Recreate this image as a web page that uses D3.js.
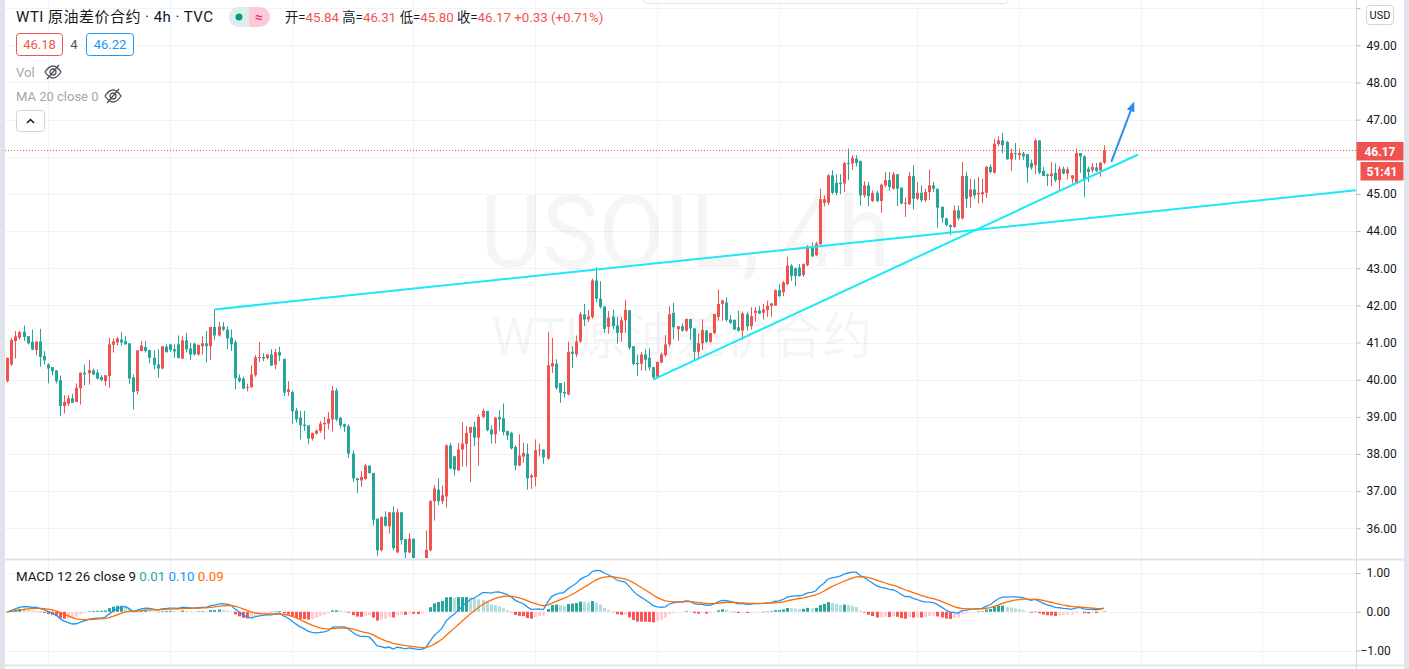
<!DOCTYPE html>
<meta charset="utf-8">
<style>
  body { margin: 0; background: #fff; }
  svg { display: block; font-family: Roboto, "Noto Sans CJK SC", sans-serif; }
</style>
<script src="https://cdn.jsdelivr.net/npm/d3@7"></script>
<svg id="chart" width="1409" height="669"></svg>
<script>

// 4h candles, oldest first
var opens = [
  39.96,40.41,41.04,41.13,41.29,41.17,41.02,40.80,41.03,40.64,
  40.41,40.34,40.25,39.99,39.29,39.36,39.50,39.40,39.77,40.19,
  40.17,40.25,40.19,40.07,39.96,40.10,40.94,41.00,41.08,41.04,
  40.98,40.06,39.69,40.77,40.88,40.80,40.59,40.41,40.30,40.89,
  40.95,40.82,40.95,40.57,41.06,40.84,40.97,40.68,40.90,40.98,
  40.90,41.42,41.19,41.43,41.35,41.13,41.01,40.05,40.03,39.78,
  39.80,40.12,40.59,40.61,40.58,40.68,40.40,40.74,40.56,39.67,
  39.67,39.17,38.98,38.79,38.77,38.41,38.55,38.62,38.80,38.82,
  38.93,39.71,38.97,38.80,38.75,38.01,37.34,37.29,37.33,37.69,
  37.49,36.26,35.41,36.31,36.05,36.43,35.35,36.43,35.71,35.35,
  35.72,35.12,34.95,35.05,35.41,36.73,37.04,36.73,36.86,38.23,
  37.94,37.56,38.12,38.27,38.57,38.73,38.44,39.00,39.16,38.66,
  38.53,39.00,38.96,38.62,38.57,38.19,37.69,37.93,38.01,37.37,
  37.38,38.10,38.12,37.88,40.36,40.43,39.91,39.67,39.60,40.75,
  40.68,41.03,41.76,41.62,41.69,42.67,42.18,41.97,41.42,41.70,
  41.46,41.26,41.60,41.87,40.90,40.45,40.43,40.68,40.59,40.34,
  40.08,40.46,40.66,40.95,41.80,41.36,41.44,41.32,41.63,41.38,
  40.75,40.98,41.32,41.02,41.25,41.69,42.04,42.08,41.62,41.61,
  41.41,41.32,41.76,41.44,41.80,41.86,41.80,41.87,41.99,41.99,
  42.41,42.35,42.57,43.07,43.00,43.02,42.82,43.08,43.55,43.35,
  43.65,44.76,44.76,45.50,45.30,45.30,45.28,45.83,45.82,45.95,
  45.89,44.96,45.23,44.81,45.03,44.81,45.23,45.37,45.14,45.53,
  45.17,44.74,44.72,45.48,44.87,45.03,44.83,45.05,45.23,45.14,
  44.65,44.34,44.16,44.11,44.56,44.34,45.48,44.92,45.12,44.99,
  44.99,45.03,45.73,45.57,46.34,46.44,46.40,45.93,46.10,46.04,
  46.09,46.07,45.83,45.77,46.44,45.62,45.52,45.48,45.57,45.37,
  45.68,45.55,45.41,45.28,46.10,46.01,45.68,45.64,45.71,45.64,
  45.84
];
var highs = [
  40.59,41.13,41.31,41.31,41.46,41.17,41.35,41.03,41.37,40.77,
  40.44,40.34,40.25,40.11,39.58,39.58,39.62,39.90,40.19,40.41,
  40.53,40.30,40.28,40.12,40.12,41.13,41.11,41.15,41.28,41.17,
  40.98,40.14,40.79,41.04,41.04,40.80,40.79,40.82,40.90,40.95,
  40.95,40.95,41.19,41.17,41.26,41.00,41.00,40.95,41.17,41.31,
  41.42,41.89,41.55,41.55,41.44,41.35,41.06,40.14,40.08,39.89,
  40.38,40.66,41.01,40.71,40.68,40.82,40.83,40.89,40.56,39.96,
  39.71,39.24,39.16,39.16,38.77,38.57,38.66,38.89,39.00,39.13,
  39.83,39.78,39.00,38.82,38.80,38.10,37.36,37.54,37.74,37.69,
  37.49,36.26,36.31,36.46,36.43,36.59,36.53,36.43,35.71,35.86,
  35.72,35.14,35.10,35.94,36.76,37.16,37.34,37.15,38.26,38.30,
  37.94,38.30,38.86,38.75,38.73,38.87,39.06,39.22,39.16,38.77,
  39.00,39.18,39.36,38.62,38.60,38.23,38.53,38.30,38.28,37.47,
  38.39,38.28,38.12,41.28,41.12,40.55,39.91,39.94,41.02,40.90,
  41.19,41.82,42.04,41.87,42.72,43.03,42.65,41.97,41.85,41.88,
  41.69,41.69,42.15,41.87,40.90,40.68,40.75,40.81,40.84,40.34,
  40.48,40.73,41.20,41.98,42.07,41.44,41.52,41.65,41.63,41.38,
  41.25,41.62,41.34,41.26,41.77,42.43,42.16,42.22,41.74,41.62,
  41.86,41.83,41.83,41.95,41.95,41.98,42.04,42.13,42.07,42.43,
  42.57,42.66,43.31,43.11,43.02,43.11,43.13,43.62,43.69,43.71,
  45.14,44.96,45.53,45.64,45.53,45.53,45.86,46.22,46.04,46.04,
  45.89,45.34,45.32,45.10,45.08,45.28,45.59,45.59,45.59,45.53,
  45.17,44.90,45.59,45.77,45.32,45.23,45.14,45.66,45.32,45.14,
  44.67,44.36,44.18,44.69,44.69,45.86,45.59,45.41,45.39,45.46,
  45.41,45.75,45.80,46.49,46.55,46.64,46.43,46.22,46.37,46.22,
  46.13,46.07,45.92,46.49,46.44,45.73,45.55,45.86,45.82,45.75,
  45.73,45.73,45.50,46.22,46.10,46.04,45.73,45.83,45.83,45.86,
  46.31
];
var lows = [
  39.93,40.37,40.57,41.08,41.04,40.95,40.79,40.66,40.35,40.41,
  39.90,40.12,39.90,39.02,39.09,39.29,39.38,39.40,39.33,39.85,
  39.87,40.12,40.01,39.96,39.83,39.78,40.73,40.92,40.92,40.95,
  39.89,39.20,39.60,40.77,40.73,40.44,40.28,40.05,40.28,40.73,
  40.75,40.59,40.58,40.55,40.73,40.53,40.65,40.65,40.68,40.46,
  40.53,41.07,41.16,41.31,40.82,40.77,39.74,39.92,39.74,39.69,
  39.78,40.08,40.47,40.50,40.55,40.37,40.28,40.50,39.56,39.56,
  38.80,38.84,38.39,38.62,38.26,38.36,38.52,38.57,38.39,38.66,
  38.60,38.88,38.69,38.59,37.90,37.25,36.95,37.12,37.31,37.47,
  36.07,35.25,35.38,36.05,35.86,35.42,35.33,35.56,35.17,35.33,
  35.15,34.80,34.85,35.00,35.38,36.21,36.62,36.66,36.56,37.59,
  37.42,37.54,37.66,37.66,37.24,38.21,37.69,38.96,38.61,38.28,
  38.28,38.62,38.50,38.37,38.12,37.56,37.67,37.77,37.04,37.06,
  37.13,37.94,37.74,37.84,40.18,39.73,39.38,39.51,39.58,40.32,
  40.61,40.99,41.44,41.55,41.64,42.09,41.91,41.26,41.24,41.35,
  40.97,41.02,41.26,40.81,40.39,40.09,40.25,40.24,40.25,40.00,
  40.06,40.44,40.62,40.89,41.08,41.05,41.29,41.29,41.07,40.53,
  40.55,40.80,40.99,40.99,41.23,41.59,41.59,41.56,41.50,41.34,
  41.29,41.07,41.32,41.35,41.56,41.77,41.62,41.69,41.69,41.99,
  42.22,42.25,42.55,42.66,42.52,42.77,42.77,43.05,43.30,43.32,
  43.62,44.67,44.70,44.99,44.96,44.99,45.05,45.37,45.65,45.74,
  44.69,44.90,44.67,44.78,44.78,44.49,45.18,45.08,45.12,44.67,
  44.72,44.38,44.70,44.58,44.83,44.78,44.78,44.83,45.05,44.09,
  44.22,44.13,43.89,44.09,44.29,44.31,44.63,44.63,44.87,44.74,
  44.76,44.90,45.55,45.55,46.28,46.09,45.92,45.62,45.92,45.92,
  45.92,45.30,45.65,45.53,45.53,45.48,45.21,45.21,45.32,45.10,
  45.53,45.39,45.28,45.26,45.57,44.92,45.32,45.57,45.59,45.46,
  45.80
];
var closes = [
  40.59,41.07,41.17,41.28,41.15,40.98,40.81,41.03,40.61,40.52,
  40.30,40.23,39.96,39.29,39.40,39.50,39.38,39.78,40.19,40.14,
  40.26,40.14,40.03,39.99,40.12,40.95,41.03,41.11,41.00,40.95,
  40.03,39.67,40.79,40.92,40.77,40.59,40.40,40.30,40.90,40.74,
  40.80,40.76,40.58,41.06,40.82,40.68,40.68,40.93,40.98,40.90,
  41.42,41.19,41.43,41.35,41.11,40.95,40.04,39.96,39.76,39.80,
  40.14,40.60,40.61,40.57,40.68,40.38,40.74,40.65,39.65,39.74,
  39.15,38.93,38.77,38.75,38.42,38.57,38.63,38.82,38.84,38.95,
  39.71,38.93,38.77,38.73,38.01,37.34,37.30,37.38,37.69,37.49,
  36.23,35.41,36.31,36.07,36.43,35.47,36.43,35.68,35.35,35.72,
  35.17,34.95,35.05,35.42,36.73,37.07,36.73,36.89,38.23,37.61,
  37.58,38.12,38.28,38.57,38.73,38.44,39.00,39.16,38.64,38.53,
  38.98,38.93,38.59,38.50,38.15,37.69,37.96,38.03,37.34,37.42,
  38.10,38.12,37.91,40.39,40.45,39.78,39.65,39.63,40.75,40.70,
  41.03,41.76,41.62,41.70,42.67,42.18,41.96,41.37,41.67,41.44,
  41.26,41.60,41.88,40.86,40.43,40.42,40.68,40.54,40.33,40.06,
  40.48,40.68,40.95,41.76,41.41,41.44,41.32,41.63,41.38,40.75,
  40.98,41.34,41.02,41.26,41.77,42.04,42.13,41.61,41.53,41.35,
  41.32,41.78,41.44,41.71,41.86,41.78,41.89,41.99,42.05,42.41,
  42.25,42.62,43.07,42.79,42.79,42.79,43.11,43.58,43.32,43.66,
  44.86,44.86,45.50,45.03,45.03,45.26,45.83,45.80,45.97,45.83,
  44.96,45.23,44.94,45.03,44.81,45.25,45.37,45.19,45.53,45.14,
  44.74,44.76,45.48,44.87,45.03,44.83,45.05,45.23,45.14,44.63,
  44.36,44.16,44.11,44.56,44.34,45.48,44.87,45.12,44.96,45.03,
  45.05,45.73,45.59,46.35,46.44,46.31,45.93,46.10,46.07,46.10,
  46.01,45.71,45.71,46.44,45.57,45.48,45.48,45.55,45.37,45.68,
  45.55,45.66,45.50,46.10,46.01,45.39,45.59,45.73,45.62,45.84,
  46.17
];

var priceTicks = [36,37,38,39,40,41,42,43,44,45,46,47,48,49,50];
var hiddenLabels = [46, 50];      // labels covered by the price badge / USD badge
var macdTicks = [-1, 0, 1];
var gridIdx = [10, 40, 70, 100, 130, 160, 190, 224, 249, 279, 309];   // weekly time grid, by bar index
var trendTop = [[51, 41.89], [332, 45.10]];       // [bar index, price]
var trendSupport = [[159, 40.00], [278.4, 46.06]];
var arrowPts = [[271.8, 45.86], [277.0, 47.36]];
var changeText = "+0.33 (+0.71%)";
var countdown = "51:41";

var UP = "#ef5350", DOWN = "#26a69a", GRID = "#f0f3fa", TXT = "#131722";
var axisX = 1356.5, paneSplit = 559, bottomLine = 665;

var svg = d3.select("#chart");
var n = closes.length;

var x = d3.scaleLinear().domain([0, n - 1]).range([7.3, 1104]);
var y = d3.scaleLinear().domain([36, 49]).range([528.3, 45.3]);
var ym = d3.scaleLinear().domain([-1, 1]).range([650.5, 573]);

// clip areas for the two panes
var defs = svg.append("defs");
defs.append("clipPath").attr("id", "clipPrice")
  .append("rect").attr("x", 5).attr("y", 0).attr("width", axisX - 5).attr("height", paneSplit - 1);
defs.append("clipPath").attr("id", "clipMacd")
  .append("rect").attr("x", 5).attr("y", paneSplit + 1).attr("width", axisX - 5).attr("height", bottomLine - paneSplit - 2);
defs.append("marker").attr("id", "arrowHead")
    .attr("viewBox", "0 0 10 10").attr("refX", 5).attr("refY", 5)
    .attr("markerWidth", 5).attr("markerHeight", 5).attr("orient", "auto")
  .append("path").attr("d", "M0,1 L10,5 L0,9 Z").attr("fill", "#2a8ef0");

// page edges
svg.append("rect").attr("x", 0).attr("y", 0).attr("width", 5).attr("height", 669).attr("fill", "#e0e3eb");
svg.append("rect").attr("x", 1404).attr("y", 0).attr("width", 5).attr("height", 669).attr("fill", "#e0e3eb");

// grid
var grid = svg.append("g");
grid.selectAll(".vg").data(gridIdx).enter().append("line")
  .attr("x1", function(d) { return Math.round(x(d)) + 0.5; })
  .attr("x2", function(d) { return Math.round(x(d)) + 0.5; })
  .attr("y1", 0).attr("y2", bottomLine)
  .attr("stroke", GRID);
grid.selectAll(".hg").data(priceTicks).enter().append("line")
  .attr("x1", 5).attr("x2", axisX)
  .attr("y1", function(d) { return Math.round(y(d)) + 0.5; })
  .attr("y2", function(d) { return Math.round(y(d)) + 0.5; })
  .attr("stroke", GRID);
grid.selectAll(".mg").data(macdTicks).enter().append("line")
  .attr("x1", 5).attr("x2", axisX)
  .attr("y1", function(d) { return Math.round(ym(d)) + 0.5; })
  .attr("y2", function(d) { return Math.round(ym(d)) + 0.5; })
  .attr("stroke", GRID);

// watermark
svg.append("text").attr("x", 685).attr("y", 267)
  .attr("text-anchor", "middle").attr("font-size", 100)
  .attr("textLength", 410).attr("lengthAdjust", "spacingAndGlyphs")
  .attr("fill", "rgba(0,0,0,0.04)").text("USOIL, 4h");
svg.append("text").attr("x", 682).attr("y", 354)
  .attr("text-anchor", "middle").attr("font-size", 50)
  .attr("textLength", 380).attr("lengthAdjust", "spacingAndGlyphs")
  .attr("fill", "rgba(0,0,0,0.04)").text("WTI原油差价合约");

// candles
var price = svg.append("g").attr("clip-path", "url(#clipPrice)");
var bars = d3.range(n).map(function(i) {
  return { i: i, o: opens[i], h: highs[i], l: lows[i], c: closes[i] };
});
function px(i) { return Math.round(x(i)); }
var cg = price.selectAll(".candle").data(bars).enter().append("g");
cg.append("rect")
  .attr("x", function(d) { return px(d.i); })
  .attr("width", 1)
  .attr("y", function(d) { return y(d.h); })
  .attr("height", function(d) { return Math.max(1, y(d.l) - y(d.h)); })
  .attr("fill", function(d) { return d.c >= d.o ? UP : DOWN; });
cg.append("rect")
  .attr("x", function(d) { return px(d.i) - 1; })
  .attr("width", 3)
  .attr("y", function(d) { return y(Math.max(d.o, d.c)); })
  .attr("height", function(d) { return Math.max(1, Math.abs(y(d.o) - y(d.c))); })
  .attr("fill", function(d) { return d.c >= d.o ? UP : DOWN; });

// last price dotted line
var lastY = Math.round(y(closes[n - 1])) + 0.5;
price.append("line").attr("x1", 5).attr("x2", axisX)
  .attr("y1", lastY).attr("y2", lastY)
  .attr("stroke", UP).attr("stroke-dasharray", "1,2");

// drawings
var line = d3.line().x(function(d) { return x(d[0]); }).y(function(d) { return y(d[1]); });
price.append("path").attr("d", line(trendTop))
  .attr("fill", "none").attr("stroke", "#1ce9f7").attr("stroke-width", 2);
price.append("path").attr("d", line(trendSupport))
  .attr("fill", "none").attr("stroke", "#1ce9f7").attr("stroke-width", 2);
price.append("path").attr("d", line(arrowPts))
  .attr("fill", "none").attr("stroke", "#2a8ef0").attr("stroke-width", 2)
  .attr("marker-end", "url(#arrowHead)");

// MACD 12 26 close 9, computed from the closes
function ema(arr, len) {
  var k = 2 / (len + 1), prev = arr[0];
  return arr.map(function(v, i) { prev = i ? v * k + prev * (1 - k) : v; return prev; });
}
var e12 = ema(closes, 12), e26 = ema(closes, 26);
var macd = e12.map(function(v, i) { return v - e26[i]; });
var signal = ema(macd, 9);
var hist = macd.map(function(v, i) { return v - signal[i]; });

var mp = svg.append("g").attr("clip-path", "url(#clipMacd)");
var zeroY = ym(0);
mp.selectAll(".hist").data(hist).enter().append("rect")
  .attr("x", function(d, i) { return px(i) - 1; })
  .attr("width", 3)
  .attr("y", function(d) { return Math.min(zeroY, ym(d)); })
  .attr("height", function(d) { return Math.max(0.5, Math.abs(ym(d) - zeroY)); })
  .attr("fill", function(d, i) {
    var prev = i ? hist[i - 1] : d;
    if (d >= 0) return d >= prev ? "#26a69a" : "#b2dfdb";
    return d <= prev ? "#ff5252" : "#ffcdd2";
  });
var mline = d3.line().x(function(d, i) { return x(i); }).y(function(d) { return ym(d); });
mp.append("path").attr("d", mline(macd)).attr("fill", "none").attr("stroke", "#2196f3").attr("stroke-width", 1.3);
mp.append("path").attr("d", mline(signal)).attr("fill", "none").attr("stroke", "#ff6d00").attr("stroke-width", 1.3);

// pane separators
svg.append("line").attr("x1", 5).attr("x2", 1404).attr("y1", paneSplit + 0.5).attr("y2", paneSplit + 0.5)
  .attr("stroke", "#e0e3eb").attr("stroke-width", 2);
svg.append("line").attr("x1", 5).attr("x2", 1404).attr("y1", bottomLine + 0.5).attr("y2", bottomLine + 0.5)
  .attr("stroke", "#e0e3eb").attr("stroke-width", 2);

// right price axis
svg.append("line").attr("x1", axisX).attr("x2", axisX).attr("y1", 0).attr("y2", 669)
  .attr("stroke", "#d6d9e0");
var yAxis = svg.append("g").attr("transform", "translate(" + axisX + ",0)")
  .call(d3.axisRight(y).tickValues(priceTicks).tickSize(4).tickSizeOuter(0).tickPadding(6)
    .tickFormat(function(d) { return hiddenLabels.indexOf(d) >= 0 ? "" : d3.format(".2f")(d); }));
var mAxis = svg.append("g").attr("transform", "translate(" + axisX + ",0)")
  .call(d3.axisRight(ym).tickValues(macdTicks).tickSize(4).tickSizeOuter(0).tickPadding(6)
    .tickFormat(function(d) { return d3.format(".2f")(d).replace("-", "\u2212"); }));
[yAxis, mAxis].forEach(function(a) {
  a.select(".domain").remove();
  a.selectAll(".tick line").attr("stroke", "#b2b5be");
  a.selectAll(".tick text").attr("fill", TXT).attr("font-size", 12)
    .attr("font-family", "Roboto, sans-serif");
});
mAxis.selectAll(".tick text").filter(function(d) { return d < 0; }).attr("dx", -6);

// USD badge
svg.append("rect").attr("x", 1366.5).attr("y", 5.5).attr("width", 27).attr("height", 19).attr("rx", 3)
  .attr("fill", "#fff").attr("stroke", "#d1d4dc");
svg.append("text").attr("x", 1380).attr("y", 19).attr("text-anchor", "middle")
  .attr("font-size", 11).attr("fill", TXT).text("USD");

// last price + countdown labels
svg.append("rect").attr("x", axisX).attr("y", 142).attr("width", 47).attr("height", 18.5).attr("fill", UP);
svg.append("text").attr("x", 1380).attr("y", 156).attr("text-anchor", "middle")
  .attr("font-size", 12).attr("font-weight", "bold").attr("fill", "#fff").text(closes[n - 1].toFixed(2));
svg.append("rect").attr("x", 1360.5).attr("y", 162).attr("width", 43).attr("height", 18.5).attr("fill", UP);
svg.append("text").attr("x", 1382).attr("y", 176).attr("text-anchor", "middle")
  .attr("font-size", 12).attr("font-weight", "bold").attr("fill", "#fff").text(countdown);

// dropdown edge at the top
svg.append("rect").attr("x", 643.5).attr("y", -8).attr("width", 365).attr("height", 11.5).attr("rx", 4)
  .attr("fill", "#fff").attr("stroke", "#e0e3eb");

// legend / header
svg.append("text").attr("x", 16).attr("y", 22).attr("font-size", 15).attr("fill", TXT)
  .attr("textLength", 197).attr("lengthAdjust", "spacing")
  .text("WTI 原油差价合约 · 4h · TVC");

svg.append("rect").attr("x", 229).attr("y", 7).attr("width", 41).attr("height", 20).attr("rx", 10).attr("fill", "#fbc9d9");
svg.append("path").attr("d", "M239,7 h10 v20 h-10 a10,10 0 0 1 0,-20 Z").attr("fill", "#dcefed");
svg.append("circle").attr("cx", 239).attr("cy", 17).attr("r", 3.5).attr("fill", "#089981");
svg.append("text").attr("x", 259).attr("y", 22).attr("text-anchor", "middle")
  .attr("font-size", 14).attr("fill", "#e91e63").text("≈");

var ohlc = svg.append("text").attr("x", 285).attr("y", 22).attr("font-size", 13.3);
[["开=", opens[n - 1]], [" 高=", highs[n - 1]], [" 低=", lows[n - 1]], [" 收=", closes[n - 1]]].forEach(function(p) {
  ohlc.append("tspan").attr("fill", TXT).text(p[0]);
  ohlc.append("tspan").attr("fill", UP).text(p[1].toFixed(2));
});
ohlc.append("tspan").attr("fill", UP).text(" " + changeText);

// bid / ask boxes
svg.append("rect").attr("x", 16.5).attr("y", 33.5).attr("width", 46).attr("height", 22).attr("rx", 3)
  .attr("fill", "#fff").attr("stroke", UP);
svg.append("text").attr("x", 39.5).attr("y", 49).attr("text-anchor", "middle")
  .attr("font-size", 13).attr("fill", UP).text("46.18");
svg.append("text").attr("x", 74).attr("y", 49).attr("text-anchor", "middle")
  .attr("font-size", 13).attr("fill", "#50535e").text("4");
svg.append("rect").attr("x", 86.5).attr("y", 33.5).attr("width", 47).attr("height", 22).attr("rx", 3)
  .attr("fill", "#fff").attr("stroke", "#2196f3");
svg.append("text").attr("x", 110).attr("y", 49).attr("text-anchor", "middle")
  .attr("font-size", 13).attr("fill", "#2196f3").text("46.22");

// hidden indicators
function eyeOff(x0, y0) {
  var g = svg.append("g").attr("transform", "translate(" + x0 + "," + y0 + ")")
    .attr("fill", "none").attr("stroke", "#50535e").attr("stroke-width", 1.3);
  g.append("path").attr("d", "M1,7 C4,2.5 6.5,1 9,1 C11.5,1 14,2.5 17,7 C14,11.5 11.5,13 9,13 C6.5,13 4,11.5 1,7 Z");
  g.append("circle").attr("cx", 9).attr("cy", 7).attr("r", 3);
  g.append("path").attr("d", "M3,14 L15,0");
}
svg.append("text").attr("x", 16).attr("y", 77).attr("font-size", 13).attr("fill", "#a3a6af").text("Vol");
eyeOff(44, 65);
svg.append("text").attr("x", 16).attr("y", 101).attr("font-size", 13).attr("fill", "#a3a6af").text("MA 20 close 0");
eyeOff(104, 89);

// collapse button
svg.append("rect").attr("x", 16.5).attr("y", 110.5).attr("width", 28).attr("height", 21).attr("rx", 3)
  .attr("fill", "#fff").attr("stroke", "#d1d4dc");
svg.append("path").attr("d", "M27,123 L30.5,119.5 L34,123").attr("fill", "none")
  .attr("stroke", TXT).attr("stroke-width", 1.5);

// MACD legend
var ml = svg.append("text").attr("x", 16).attr("y", 581).attr("font-size", 13.3);
ml.append("tspan").attr("fill", TXT).text("MACD 12 26 close 9 ");
ml.append("tspan").attr("fill", "#26a69a").text(" 0.01 ");
ml.append("tspan").attr("fill", "#2196f3").text(" 0.10 ");
ml.append("tspan").attr("fill", "#ff6d00").text(" 0.09");

</script>
